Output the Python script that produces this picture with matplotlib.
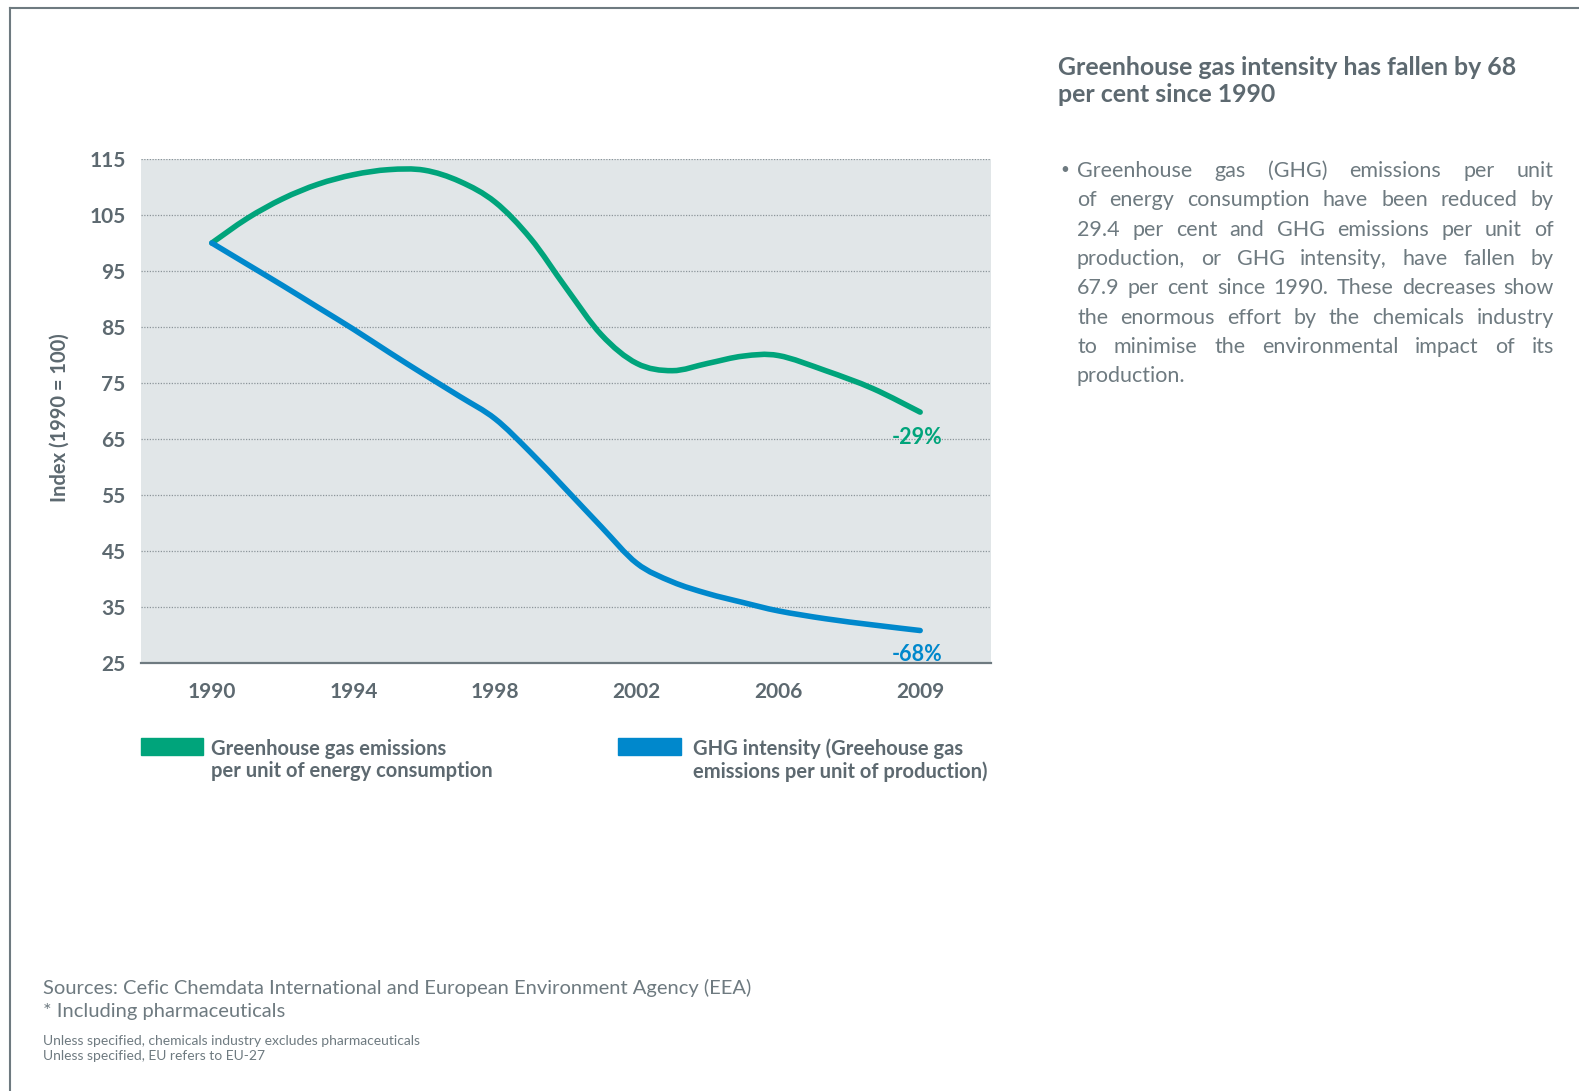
import matplotlib
matplotlib.use("Agg")
import matplotlib.pyplot as plt
from matplotlib.lines import Line2D
from matplotlib.patches import Rectangle, PathPatch
from matplotlib.path import Path

# data (index 1990 = 100)
years = [1990, 1991, 1992, 1993, 1994, 1995, 1996, 1997, 1998, 1999,
         2000, 2001, 2002, 2003, 2004, 2005, 2006, 2007, 2008, 2009]
ghg_energy = [100, 104.4, 107.9, 110.5, 112.2, 113.1, 113.0, 111.0, 107.3, 100.8,
              92.0, 83.6, 78.5, 77.2, 78.5, 79.8, 79.9, 77.2, 74.0, 69.8]
ghg_intensity = [100, 96.2, 92.4, 88.5, 84.6, 80.5, 76.5, 72.6, 68.6, 62.6,
                 56.0, 49.3, 42.8, 39.5, 37.4, 35.8, 34.3, 32.9, 31.8, 30.8]
tick_years = [1990, 1994, 1998, 2002, 2006, 2009]
y_ticks = [25, 35, 45, 55, 65, 75, 85, 95, 105, 115]
end_labels = ["-29%", "-68%"]

GREEN = "#00a47b"
BLUE = "#0088cc"
GREY = "#5d6970"
LIGHT = "#6e7a80"
FONT = "Lato"


def xpos(y):
    # the source axis puts 2009 where 2010 would sit: last 3 years span 4 slots
    if y <= 2006:
        return y - 1990
    return 16 + (y - 2006) * 4 / 3


def smooth_path(xs, ys):
    # Catmull-Rom curve through the points, as cubic Bezier segments
    verts = [(xs[0], ys[0])]
    codes = [Path.MOVETO]
    n = len(xs)
    for i in range(n - 1):
        x0, y0 = (xs[i - 1], ys[i - 1]) if i > 0 else (xs[i], ys[i])
        x1, y1 = xs[i], ys[i]
        x2, y2 = xs[i + 1], ys[i + 1]
        x3, y3 = (xs[i + 2], ys[i + 2]) if i + 2 < n else (x2, y2)
        verts += [(x1 + (x2 - x0) / 6, y1 + (y2 - y0) / 6),
                  (x2 - (x3 - x1) / 6, y2 - (y3 - y1) / 6),
                  (x2, y2)]
        codes += [Path.CURVE4] * 3
    return Path(verts, codes)


W, H = 1579, 1091
fig = plt.figure(figsize=(W / 100, H / 100), dpi=100)


def fx(px):
    return px / W


def fy(py):
    return 1 - py / H


# page frame
fig.add_artist(Line2D([fx(10), 1], [fy(8), fy(8)], color=LIGHT, lw=1.5, transform=fig.transFigure))
fig.add_artist(Line2D([fx(10), fx(10)], [fy(8), 0], color=LIGHT, lw=1.5, transform=fig.transFigure))

ax = fig.add_axes([fx(141), fy(663), fx(991) - fx(141), fy(159) - fy(663)])
ax.set_facecolor("#e1e6e8")
xs = [xpos(y) for y in years]
for vals, col in [(ghg_energy, GREEN), (ghg_intensity, BLUE)]:
    ax.add_patch(PathPatch(smooth_path(xs, vals), facecolor="none", edgecolor=col, lw=4,
                           capstyle="round", joinstyle="round", zorder=3))
ax.set_xlim(-2, 22)
ax.set_ylim(25, 115)
ax.set_yticks(y_ticks)
ax.set_xticks([xpos(y) for y in tick_years])
ax.set_xticklabels([str(y) for y in tick_years])
for g in y_ticks[1:]:
    ax.axhline(g, color="#8c959a", lw=0.9, ls=(0, (1, 1.2)), zorder=1)
for s in ["top", "right", "left"]:
    ax.spines[s].set_visible(False)
ax.spines["bottom"].set_color(LIGHT)
ax.spines["bottom"].set_linewidth(1.6)
ax.tick_params(length=0, colors=GREY, labelsize=15)
ax.tick_params(axis="y", pad=11)
ax.tick_params(axis="x", pad=14)
for lab in ax.get_xticklabels() + ax.get_yticklabels():
    lab.set_fontfamily(FONT)
    lab.set_fontweight("bold")
ax.set_ylabel("Index (1990 = 100)", fontsize=14.5, color=GREY, family=FONT, weight="bold")
ax.yaxis.set_label_coords(-0.084, 0.486)

ax.text(xpos(2009) - 0.1, ghg_energy[-1] - 4.5, end_labels[0], color=GREEN, fontsize=15.5,
        family=FONT, weight="bold", ha="center", va="center")
ax.text(xpos(2009) - 0.1, ghg_intensity[-1] - 4.2, end_labels[1], color=BLUE, fontsize=15.5,
        family=FONT, weight="bold", ha="center", va="center")

# legend
fig.add_artist(Rectangle((fx(141), fy(755)), fx(203) - fx(141), fy(738) - fy(755),
                         color=GREEN, transform=fig.transFigure))
fig.add_artist(Rectangle((fx(618), fy(755)), fx(681) - fx(618), fy(738) - fy(755),
                         color=BLUE, transform=fig.transFigure))
fig.text(fx(211), fy(760), "Greenhouse gas emissions\nper unit of energy consumption",
         fontsize=14.5, color=GREY, family=FONT, weight="bold", va="center", linespacing=1.15)
fig.text(fx(693), fy(760), "GHG intensity (Greehouse gas\nemissions per unit of production)",
         fontsize=14.5, color=GREY, family=FONT, weight="bold", va="center", linespacing=1.15)

# right-hand commentary
fig.text(fx(1058), fy(81), "Greenhouse gas intensity has fallen by 68\nper cent since 1990",
         fontsize=17.9, color=GREY, family=FONT, weight="bold", va="center", linespacing=1.25)

body_lines = [
    "Greenhouse gas (GHG) emissions per unit",
    "of energy consumption have been reduced by",
    "29.4 per cent and GHG emissions per unit of",
    "production, or GHG intensity, have fallen by",
    "67.9 per cent since 1990. These decreases show",
    "the enormous effort by the chemicals industry",
    "to minimise the environmental impact of its",
    "production.",
]
left, right = 1077, 1554
renderer = fig.canvas.get_renderer()
fig.text(fx(1060), fy(170), "\u2022", fontsize=11, color=LIGHT, family=FONT, va="center")
for i, line in enumerate(body_lines):
    yy = fy(171 + i * 29.3)
    if i == len(body_lines) - 1:
        fig.text(fx(left), yy, line, fontsize=15.5, color=LIGHT, family=FONT, va="center")
        continue
    words = line.split()
    arts = [fig.text(0, yy, w, fontsize=15.5, color=LIGHT, family=FONT, va="center") for w in words]
    widths = [a.get_window_extent(renderer).width for a in arts]
    gap = (right - left - sum(widths)) / (len(words) - 1)
    x = left
    for a, w in zip(arts, widths):
        a.set_x(fx(x))
        x += w + gap

# footer
fig.text(fx(43), fy(988), "Sources: Cefic Chemdata International and European Environment Agency (EEA)",
         fontsize=14.5, color=LIGHT, family=FONT, va="center")
fig.text(fx(43), fy(1011), "* Including pharmaceuticals", fontsize=14.5, color=LIGHT, family=FONT, va="center")
fig.text(fx(43), fy(1041), "Unless specified, chemicals industry excludes pharmaceuticals",
         fontsize=10, color=LIGHT, family=FONT, va="center")
fig.text(fx(43), fy(1056), "Unless specified, EU refers to EU-27", fontsize=10, color=LIGHT, family=FONT, va="center")

fig.savefig("out.png", dpi=100, facecolor="white")
